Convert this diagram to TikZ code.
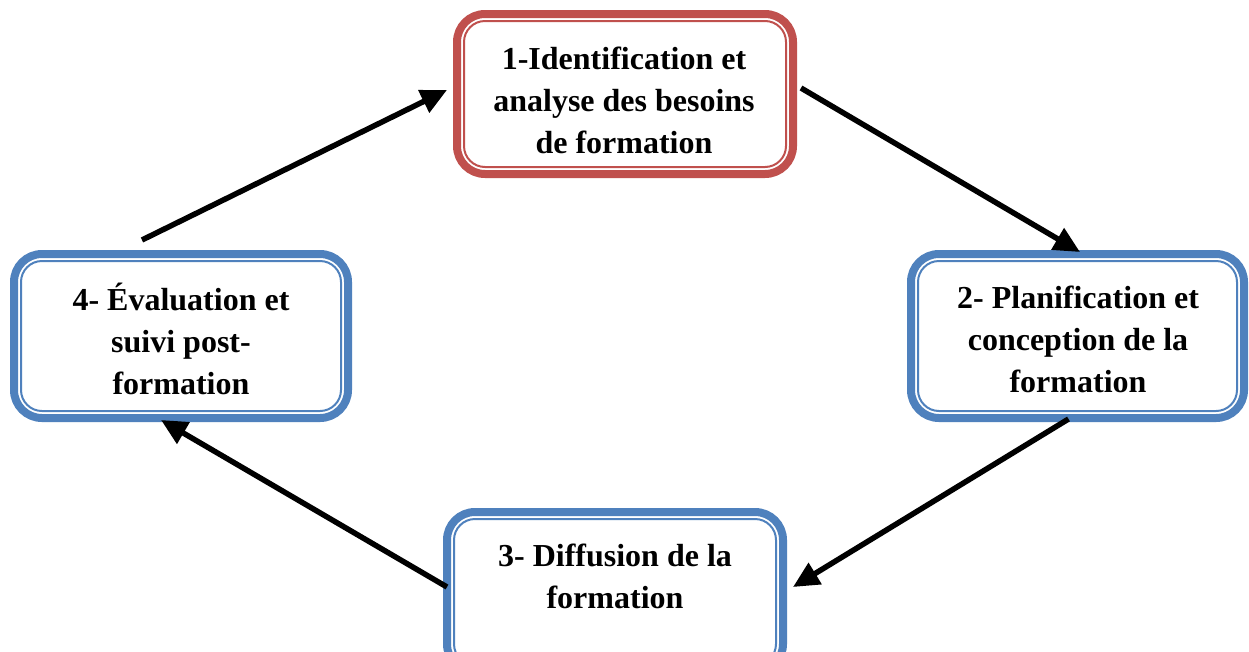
\documentclass[tikz,border=0pt]{standalone}
\usepackage{fontspec}
\setmainfont{Liberation Serif}
\usetikzlibrary{arrows.meta}
\definecolor{redbox}{HTML}{C0504D}
\definecolor{bluebox}{HTML}{4F81BD}
\tikzset{
  stagebox/.style={rectangle, draw=#1, line width=8pt, rounded corners=28pt, fill=white,
    inner sep=0pt, outer sep=0pt},
  innerline/.style={draw=#1, line width=2pt, rounded corners=21pt},
  stagetext/.style={align=center, font=\bfseries\fontsize{32}{42}\selectfont, inner sep=0pt},
  flow/.style={line width=5.5pt, -{Triangle[length=26pt,width=24pt]}}
}
\newcommand{\innerframe}[2]{%
  \draw[innerline=#2] ([shift={(7pt,7pt)}]#1.south west) rectangle ([shift={(-7pt,-7pt)}]#1.north east);}
\begin{document}
\begin{tikzpicture}[x=1pt,y=-1pt]
\useasboundingbox (0,0) rectangle (1249,651);
\fill[white] (0,0) rectangle (1249,651);
% boxes
\node[stagebox=redbox, minimum width=336pt, minimum height=160pt] (b1) at (625,94) {};
\node[stagebox=bluebox, minimum width=333pt, minimum height=164pt] (b2) at (1077.5,336) {};
\node[stagebox=bluebox, minimum width=336pt, minimum height=160pt] (b3) at (615,592) {};
\node[stagebox=bluebox, minimum width=334pt, minimum height=164pt] (b4) at (181,336) {};
\innerframe{b1}{redbox}
\innerframe{b2}{bluebox}
\innerframe{b3}{bluebox}
\innerframe{b4}{bluebox}
% texts
\node[stagetext] (t1) at (624,100) {1-Identification et\\analyse des besoins\\de formation};
\node[stagetext] (t2) at (1078,339) {2- Planification et\\conception de la\\formation};
\node[stagetext] (t3) at (615,576) {3- Diffusion de la\\formation};
\node[stagetext] (t4) at (181,339) {4- Évaluation et\\suivi post-\\formation};
% arrows
\draw[flow] ([xshift=8pt,yshift=6pt]b1.east) -- ([xshift=2.5pt,yshift=2pt]b2.north);
\draw[flow] ([xshift=-9pt,yshift=-1pt]b2.south) -- ([xshift=10pt,yshift=5pt]b3.east);
\draw[flow] ([xshift=0pt,yshift=5pt]b3.west) -- ([xshift=-20pt,yshift=-2pt]b4.south);
\draw[flow] ([xshift=-39pt,yshift=14pt]b4.north) -- ([xshift=-10pt,yshift=4pt]b1.west);
\end{tikzpicture}
\end{document}
